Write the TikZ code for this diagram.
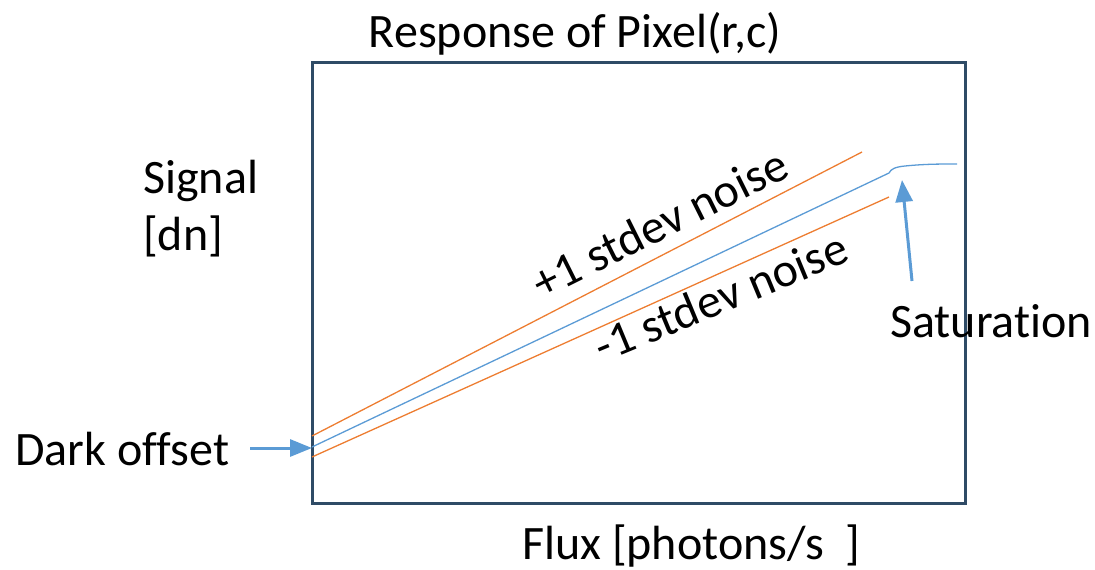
\documentclass[tikz,border=0pt]{standalone}
\usepackage{fontspec}
\setmainfont{Carlito}[Ligatures={NoCommon}]
\usetikzlibrary{arrows.meta}
\definecolor{boxc}{HTML}{2F4B66}
\definecolor{orng}{HTML}{ED7D31}
\definecolor{blu}{HTML}{5B9BD5}
\tikzset{
  lbl/.style={inner sep=0pt, font=\fontsize{48}{57}\selectfont},
  frame/.style={draw=boxc, line width=3pt},
  noiseline/.style={draw=orng, line width=1.3pt},
  sigline/.style={draw=blu, line width=1.3pt},
  pointer/.style={draw=blu, line width=3pt, -{Triangle[length=22pt,width=17pt]}}
}
\begin{document}
\begin{tikzpicture}[x=1pt,y=-1pt]
\useasboundingbox (0,0) rectangle (1095,570);
\draw[frame] (312,62) rectangle (965,503);
% lines
\coordinate (u0) at (312,436); \coordinate (u1) at (862,152);
\coordinate (m0) at (312,447); \coordinate (m1) at (889,173);
\coordinate (l0) at (312,457); \coordinate (l1) at (889,197);
\coordinate (sat) at (957,164);
\draw[noiseline] (u0) -- (u1);
\draw[noiseline] (l0) -- (l1);
\draw[sigline] (m0) -- (m1) .. controls (891,169) and (895,167) .. (905,166) .. controls (925,164) and (940,164) .. (sat);
% labels
\node[lbl, anchor=base] (title) at (575,47) {Response of Pixel(r,c)};
\node[lbl, anchor=base west] (sig) at (143,193) {Signal};
\node[lbl, anchor=base west] (dn) at (143,250) {[dn]};
\node[lbl, anchor=base west] (dark) at (15,465) {Dark offset};
\node[lbl, anchor=base west] (satl) at (890,337) {Saturation};
\node[lbl, anchor=base west] (flux) at (522,559) {Flux [photons/s\ \ ]};
\node[lbl, anchor=base, rotate=26.5] (plus) at (667,238) {+1 stdev noise};
\node[lbl, anchor=base, rotate=22.5] (minus) at (727,312) {-1 stdev noise};
% arrows
\coordinate (darkend) at (312,448);
\coordinate (darkstart) at (250,448);
\coordinate (satstart) at (912,281);
\coordinate (satend) at (902,180);
\draw[pointer] (darkstart) -- (darkend);
\draw[pointer] (satstart) -- (satend);
\end{tikzpicture}
\end{document}
